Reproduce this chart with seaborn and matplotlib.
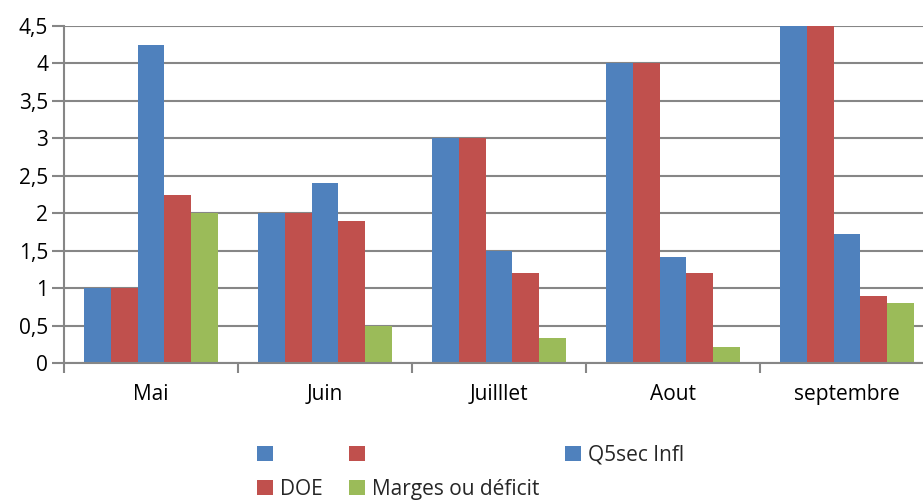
import matplotlib
matplotlib.use("Agg")
import matplotlib.pyplot as plt
import seaborn as sns
import pandas as pd
from matplotlib.ticker import FixedLocator

months = ["Mai", "Juin", "Juilllet", "Aout", "septembre"]
series_blank_blue = [1.0, 2.0, 3.0, 4.0, 4.5]
series_blank_red = [1.0, 2.0, 3.0, 4.0, 4.5]
q5sec_infl = [4.25, 2.4, 1.5, 1.42, 1.72]
doe = [2.25, 1.9, 1.2, 1.2, 0.9]
marges = [2.0, 0.5, 0.33, 0.22, 0.8]

series_keys = ["s1", "s2", "Q5sec Infl", "DOE", "Marges ou déficit"]
series_labels = ["", "", "Q5sec Infl", "DOE", "Marges ou déficit"]
yticks = [0, 0.5, 1, 1.5, 2, 2.5, 3, 3.5, 4, 4.5]
ytick_labels = ["0", "0,5", "1", "1,5", "2", "2,5", "3", "3,5", "4", "4,5"]

colors = ["#4F81BD", "#C0504D", "#4F81BD", "#C0504D", "#9BBB59"]

rows = []
for key, vals in zip(series_keys, [series_blank_blue, series_blank_red, q5sec_infl, doe, marges]):
    for m, v in zip(months, vals):
        rows.append({"mois": m, "serie": key, "valeur": v})
df = pd.DataFrame(rows)

sns.set_theme(style="white")
plt.rcParams["font.family"] = ["Open Sans", "DejaVu Sans"]
FS = 15

fig = plt.figure(figsize=(9.23, 5.01), dpi=100)
ax = fig.add_axes([64 / 923, 1 - 363 / 501, (934 - 64) / 923, (363 - 26) / 501])

sns.barplot(data=df, x="mois", y="valeur", hue="serie", order=months,
            hue_order=series_keys, palette=colors, width=0.77, gap=0,
            saturation=1, legend=False, ax=ax, errorbar=None, linewidth=0)

grid_c = "#868686"
ax.set_xlim(-0.5, 4.5)
ax.set_ylim(0, 4.5)
ax.set_yticks(yticks)
ax.set_yticklabels(ytick_labels)
ax.yaxis.grid(True, color=grid_c, linewidth=1.5)
ax.set_axisbelow(True)
ax.set_xlabel("")
ax.set_ylabel("")
for s in ["top", "right"]:
    ax.spines[s].set_visible(False)
for s in ["left", "bottom"]:
    ax.spines[s].set_color(grid_c)
    ax.spines[s].set_linewidth(1.5)

ax.tick_params(axis="y", which="major", length=8.5, width=1.5, color=grid_c,
               direction="out", pad=3, labelsize=FS, labelcolor="black", left=True)
ax.tick_params(axis="x", which="major", length=0, pad=15, labelsize=FS, labelcolor="black")
ax.xaxis.set_minor_locator(FixedLocator([i - 0.5 for i in range(len(months) + 1)]))
ax.tick_params(axis="x", which="minor", length=7, width=1.5, color=grid_c,
               direction="out", bottom=True)

cont = ax.containers
handles = [cont[0], cont[3], cont[1], cont[4], cont[2]]
labels = [series_labels[0], series_labels[3], series_labels[1], series_labels[4], series_labels[2]]
fig.legend(handles, labels, loc="center", bbox_to_anchor=(0.510, 0.057), ncol=3,
           frameon=False, fontsize=FS, handlelength=0.77, handleheight=0.77,
           handletextpad=0.34, columnspacing=1.25, labelspacing=0.62, borderpad=0)

fig.savefig("out.png", dpi=100)
